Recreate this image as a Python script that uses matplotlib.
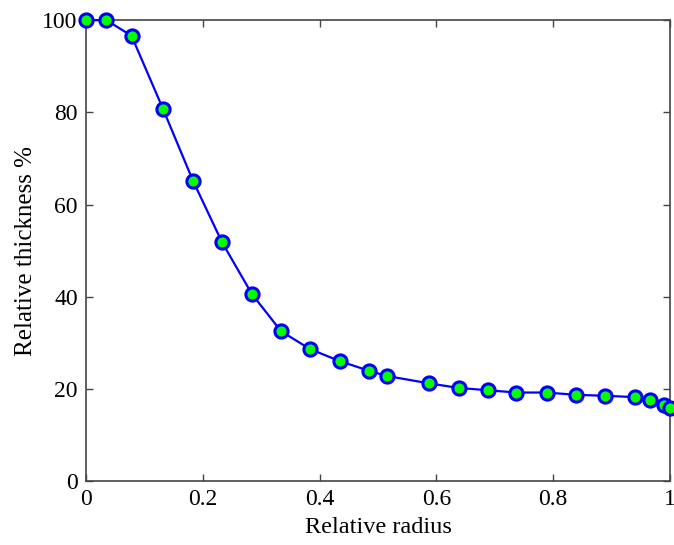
import matplotlib
matplotlib.use("Agg")
import matplotlib.pyplot as plt

# Relative thickness distribution along the blade
radius = [0.0, 0.035, 0.078, 0.132, 0.183, 0.233, 0.284, 0.334, 0.384, 0.435,
          0.485, 0.515, 0.587, 0.638, 0.688, 0.737, 0.789, 0.839, 0.889, 0.940,
          0.965, 0.990, 1.0]
thickness = [100.0, 100.0, 96.6, 80.7, 65.2, 51.8, 40.6, 32.5, 28.6, 26.0,
             23.9, 22.8, 21.2, 20.2, 19.7, 19.2, 19.2, 18.7, 18.5, 18.2,
             17.6, 16.5, 15.9]

x_ticks = [0, 0.2, 0.4, 0.6, 0.8, 1]
x_labels = ["0", "0.2", "0.4", "0.6", "0.8", "1"]
y_ticks = [0, 20, 40, 60, 80, 100]

plt.rcParams['font.family'] = ['Liberation Serif', 'DejaVu Serif']

fig = plt.figure(figsize=(6.74, 5.45), dpi=100)
ax = fig.add_axes([0.1276, 0.1174, 0.8664, 0.8456])

ax.plot(radius, thickness, '-o', color='blue', linewidth=1.6,
        markersize=9.5, markerfacecolor=(0, 1, 0), markeredgecolor='blue',
        markeredgewidth=2.2, clip_on=False, zorder=5)

ax.set_xlim(0, 1)
ax.set_ylim(0, 100)
ax.set_xticks(x_ticks)
ax.set_xticklabels(x_labels)
ax.set_yticks(y_ticks)

ax.tick_params(direction='in', top=True, right=True, length=5, width=1,
               color='#444444', labelsize=17, pad=6)
for s in ax.spines.values():
    s.set_color('#444444')
    s.set_linewidth(1.2)

ax.set_xlabel("Relative radius", fontsize=17.5, labelpad=5)
ax.set_ylabel("Relative thickness %", fontsize=18, labelpad=4)

fig.savefig("out.png", dpi=100)
